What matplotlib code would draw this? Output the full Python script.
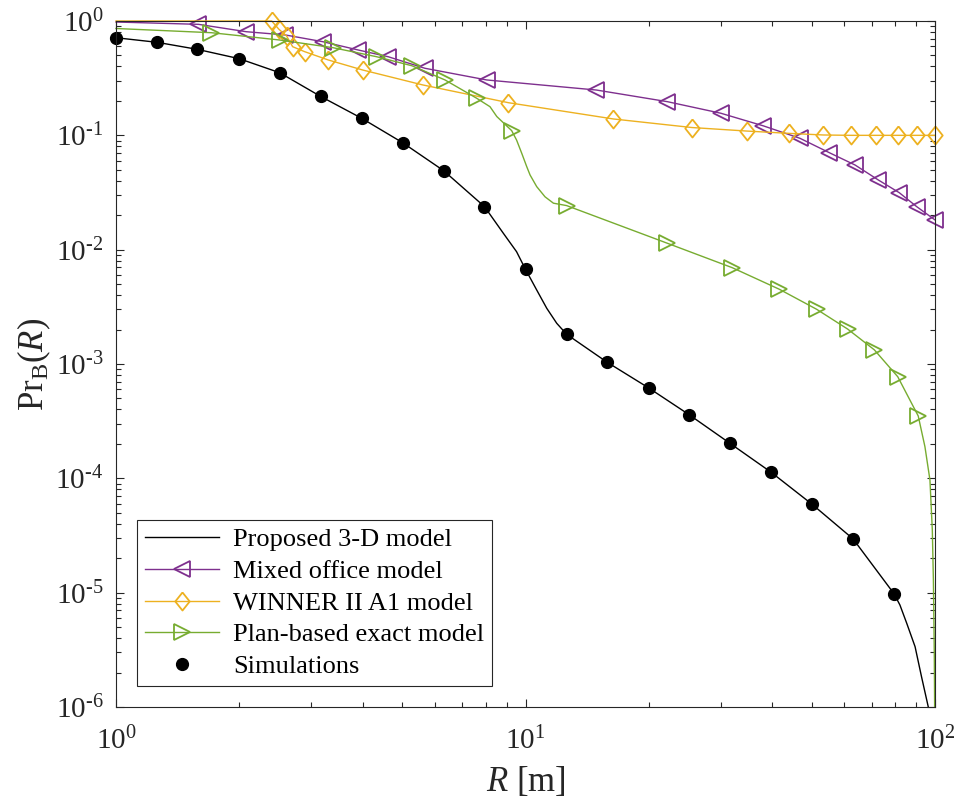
#! /usr/bin/env python3

import matplotlib as mpl
mpl.use('Agg')
import matplotlib.pyplot as plt
import matplotlib.ticker as ticker
import numpy as np

mpl.rcParams['font.family'] = 'Liberation Serif'
mpl.rcParams['mathtext.fontset'] = 'custom'
mpl.rcParams['mathtext.rm'] = 'Liberation Serif'
mpl.rcParams['mathtext.it'] = 'Liberation Serif:italic'
mpl.rcParams['mathtext.bf'] = 'Liberation Serif:bold'
mpl.rcParams['xtick.direction'] = 'in'
mpl.rcParams['ytick.direction'] = 'in'
mpl.rcParams['xtick.top'] = True
mpl.rcParams['ytick.right'] = True

AX_COL = '#262626'

# simulated blockage probability
sim_r = [1.00, 1.26, 1.58, 2.00, 2.51, 3.16, 3.98, 5.01, 6.31, 7.94,
         10.0, 12.6, 15.8, 20.0, 25.1, 31.6, 39.8, 50.1, 63.1, 79.4]
sim_p = [0.714, 0.651, 0.565, 0.468, 0.353, 0.219, 0.141, 0.0863, 0.0491, 0.0238,
         0.00673, 0.00182, 0.00104, 0.000617, 0.000360, 0.000202, 0.000113,
         5.93e-5, 2.95e-5, 9.8e-6]

# proposed 3-D model (analytic curve)
model_r = [1.0, 1.26, 1.58, 2.0, 2.51, 3.16, 3.98, 5.01, 6.31, 7.94, 8.83, 9.51,
           10.0, 10.65, 11.27, 11.92, 12.6, 15.8, 20.0, 25.1, 31.6, 39.8, 50.1,
           63.1, 79.4, 82.1, 85.3, 89.4, 92.7, 96.3]
model_p = [0.714, 0.651, 0.565, 0.468, 0.353, 0.219, 0.141, 0.0863, 0.0491, 0.0238,
           0.0139, 0.0096, 0.00673, 0.00444, 0.00307, 0.00227, 0.00182, 0.00104,
           0.000617, 0.00036, 0.000202, 0.000113, 5.93e-5, 2.95e-5, 9.8e-6, 7.8e-6,
           5.4e-6, 3.37e-6, 1.84e-6, 1.0e-6]

# mixed office model
office_r = [1.59, 2.08, 2.59, 3.20, 3.91, 4.62, 5.68, 8.04, 14.9, 22.2, 30.0,
            38.1, 46.8, 55.2, 63.8, 72.7, 81.8, 90.2, 100.0]
office_p = [0.935, 0.806, 0.755, 0.659, 0.557, 0.487, 0.386, 0.305, 0.249, 0.197,
            0.156, 0.121, 0.0942, 0.0705, 0.0550, 0.0407, 0.0315, 0.0238, 0.0182]
office_line_r = [1.0]
office_line_p = [0.98]

# WINNER II A1
winner_r = [2.40, 2.50, 2.61, 2.70, 2.89, 3.30, 4.00, 5.61, 9.08, 16.4, 25.5,
            34.7, 44.1, 53.4, 62.3, 71.8, 81.1, 90.2, 100.0]
winner_p = [1.0, 0.846, 0.739, 0.596, 0.539, 0.456, 0.373, 0.276, 0.193, 0.139,
            0.117, 0.109, 0.104, 0.1007, 0.1, 0.1, 0.1, 0.1, 0.1]
winner_line_r = [1.0]
winner_line_p = [1.0]

# plan-based exact model
plan_r = [1.71, 2.51, 3.39, 4.33, 5.28, 6.36, 7.60, 9.25, 12.6, 22.2, 32.0,
          41.7, 51.4, 61.2, 71.1, 81.1, 91.0]
plan_p = [0.79, 0.682, 0.584, 0.487, 0.406, 0.305, 0.211, 0.110, 0.0243, 0.01138,
          0.00695, 0.00450, 0.00301, 0.00202, 0.00133, 0.000774, 0.000351]
plan_line_r = [1.0, 8.19, 8.51, 9.51, 9.79, 10.07, 10.26, 10.65, 11.16, 11.7,
               94.5, 97.2, 98.5, 99.1, 99.6, 99.8]
plan_line_p = [0.86, 0.178, 0.146, 0.091, 0.0697, 0.0532, 0.045, 0.0356, 0.029,
               0.0255, 1.89e-4, 9.66e-5, 3.53e-5, 1.29e-5, 3.0e-6, 1.0e-6]


def merge(mr, mp, lr, lp):
    r = np.concatenate([mr, lr])
    p = np.concatenate([mp, lp])
    is_mark = np.concatenate([np.ones(len(mr), bool), np.zeros(len(lr), bool)])
    order = np.argsort(r, kind='stable')
    return r[order], p[order], is_mark[order]


# MATLAB-style diamond, a bit taller than wide
diamond = [(0, 1), (0.8, 0), (0, -1), (-0.8, 0), (0, 1)]

fig = plt.figure(figsize=(9.55, 8.06), dpi=100)
ax = fig.add_axes([116/955, 99/806, 819/955, 686/806])

ax.plot(model_r, model_p, color='k', lw=1.0, label='Proposed 3-D model')

r, p, m = merge(office_r, office_p, office_line_r, office_line_p)
ax.plot(r, p, color='#7E2F8E', lw=1.0, marker='<', ms=12, mfc='none', mew=1.3,
        markevery=m, clip_on=False, label='Mixed office model')

r, p, m = merge(winner_r, winner_p, winner_line_r, winner_line_p)
ax.plot(r, p, color='#EDB120', lw=1.0, marker=diamond, ms=13, mfc='none', mew=1.3,
        markevery=m, clip_on=False, label='WINNER II A1 model')

r, p, m = merge(plan_r, plan_p, plan_line_r, plan_line_p)
ax.plot(r, p, color='#77AC30', lw=1.0, marker='>', ms=12, mfc='none', mew=1.3,
        markevery=m, clip_on=False, label='Plan-based exact model')

ax.plot(sim_r, sim_p, linestyle='none', marker='o', ms=8.5, color='k',
        clip_on=False, label='Simulations')

ax.set_xscale('log')
ax.set_yscale('log')
ax.set_xlim(1, 100)
ax.set_ylim(1e-6, 1)

def pow_fmt(v, pos):
    e = int(round(np.log10(v)))
    if e < 0:
        return r'$\mathregular{10^{\text{-}%d}}$' % -e
    return r'$\mathregular{10^{%d}}$' % e

ax.xaxis.set_major_locator(ticker.LogLocator(base=10, numticks=10))
ax.yaxis.set_major_locator(ticker.LogLocator(base=10, numticks=10))
ax.xaxis.set_major_formatter(ticker.FuncFormatter(pow_fmt))
ax.yaxis.set_major_formatter(ticker.FuncFormatter(pow_fmt))
ax.xaxis.set_minor_locator(ticker.LogLocator(base=10, subs=np.arange(2, 10), numticks=20))
ax.yaxis.set_minor_locator(ticker.LogLocator(base=10, subs=np.arange(2, 10), numticks=20))
ax.xaxis.set_minor_formatter(ticker.NullFormatter())
ax.yaxis.set_minor_formatter(ticker.NullFormatter())

ax.tick_params(which='major', length=6, width=0.8, color=AX_COL, labelcolor=AX_COL,
               labelsize=21)
ax.tick_params(which='minor', length=3.5, width=0.8, color=AX_COL)
ax.tick_params(axis='y', which='major', pad=9)
ax.tick_params(axis='x', which='major', pad=14)
for s in ax.spines.values():
    s.set_color(AX_COL)
    s.set_linewidth(0.8)

ax.set_xlabel(r'$R$ [m]', fontsize=25, color=AX_COL, labelpad=7)
ax.set_ylabel(r'$\mathrm{Pr}_{\mathrm{B}}(R)$', fontsize=25, color=AX_COL, labelpad=2)

leg = ax.legend(loc='lower left', bbox_to_anchor=(21/819, 21/686), borderaxespad=0,
                fontsize=19, fancybox=False, framealpha=1, edgecolor=AX_COL,
                handlelength=2.8, handletextpad=0.55, labelspacing=0.31,
                borderpad=0.3, numpoints=1)
leg.get_frame().set_linewidth(0.8)

plt.savefig('out.png', dpi=100)
